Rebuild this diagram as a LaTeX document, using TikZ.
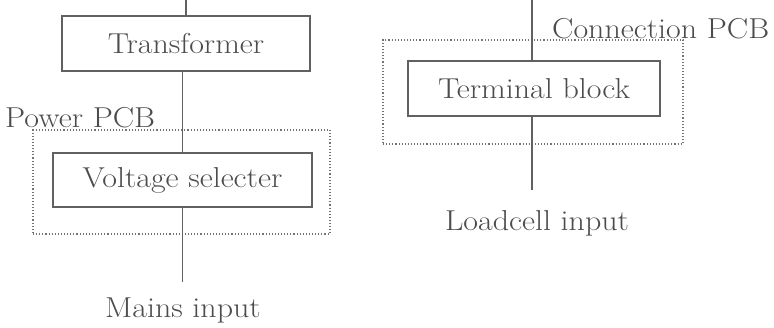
\documentclass[tikz,border=0pt]{standalone}
\newcommand\widetxt[1]{\scalebox{1.11}[1]{#1}}
\begin{document}
\begin{tikzpicture}[x=1pt,y=-1pt,
  txt/.style={text=black!70,font=\fontsize{28.8}{32}\selectfont,inner sep=0pt},
  block/.style={draw=black!62,line width=1.1pt,inner sep=0pt,txt},
  pcb/.style={draw=black!55,dotted,line width=1.1pt,inner sep=0pt},
  wire/.style={draw=black!62,line width=1.1pt}]
\useasboundingbox (0,0) rectangle (774,327);
% containers
\node[pcb,minimum width=297pt,minimum height=104pt] (ppcb) at (181.5,182) {};
\node[pcb,minimum width=300pt,minimum height=104pt] (cpcb) at (533,92) {};
% blocks
\node[block,minimum width=248pt,minimum height=55pt] (tr) at (186,43.5) {\widetxt{Transformer}};
\node[block,minimum width=259pt,minimum height=54pt] (vs) at (182.5,180) {\widetxt{Voltage selecter}};
\node[block,minimum width=252pt,minimum height=55pt] (tb) at (534,88.5) {\widetxt{Terminal block}};
% labels
\node[txt,anchor=base west] (lp) at (5,127) {\widetxt{Power PCB}};
\node[txt,anchor=base west] (lc) at (552,38) {\widetxt{Connection PCB}};
\node[txt,anchor=base] (mi) at (183,317) {\widetxt{Mains input}};
\node[txt,anchor=base] (li) at (537,230) {\widetxt{Loadcell input}};
% free ends
\coordinate (ttop) at (186,0);
\coordinate (mend) at (182.5,282);
\coordinate (rtop) at (532,0);
\coordinate (lend) at (532,190);
% wires
\draw[wire] (ttop) -- (tr.north);
\draw[wire] (vs.north |- tr.south) -- (vs.north);
\draw[wire] (vs.south) -- (mend);
\draw[wire] (rtop) -- (rtop |- tb.north);
\draw[wire] (lend |- tb.south) -- (lend);
\end{tikzpicture}
\end{document}
